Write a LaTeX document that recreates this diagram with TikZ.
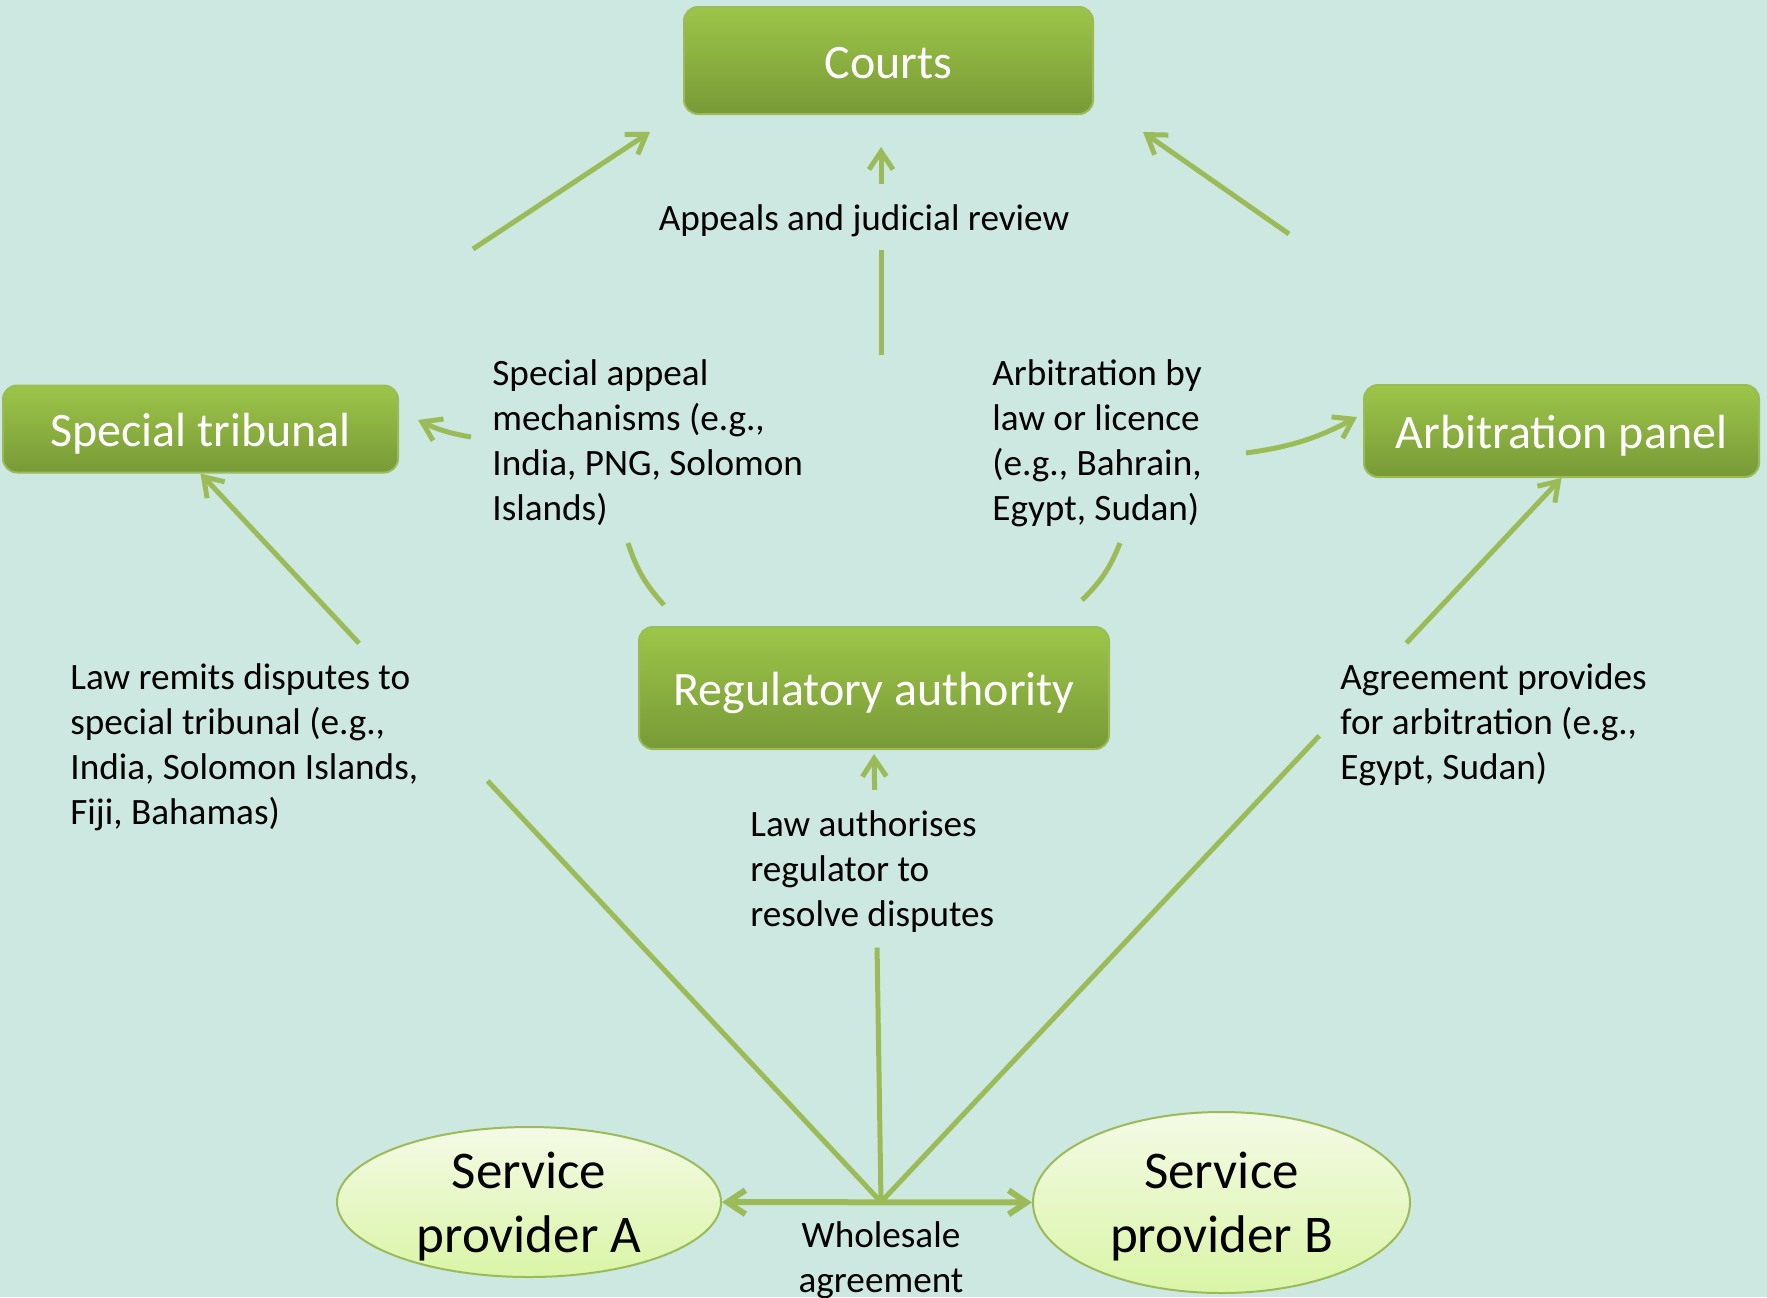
\documentclass[tikz,border=0pt]{standalone}
\usepackage{fontspec}
\setmainfont{Carlito}
\usetikzlibrary{arrows.meta,shapes.geometric}
\definecolor{bgmint}{HTML}{CDE8E0}
\definecolor{linegreen}{HTML}{9BBB59}
\definecolor{boxtop}{HTML}{9DC549}
\definecolor{boxbottom}{HTML}{789A37}
\definecolor{elltop}{HTML}{F4FAE6}
\definecolor{ellbottom}{HTML}{DAF5A6}
\def\notefont{\fontsize{18.6}{22.5}\selectfont}
\def\boxfont{\fontsize{24}{29}\selectfont}
\def\ellfont{\fontsize{26.5}{32}\selectfont}
\tikzset{
  greenbox/.style={draw=linegreen, line width=1pt, rounded corners=7pt, top color=boxtop, bottom color=boxbottom, text=white, font=\boxfont, inner sep=0pt, text height=20pt, text depth=2.4pt},
  provider/.style={ellipse, draw=linegreen, line width=1pt, top color=elltop, bottom color=ellbottom, align=center, font=\ellfont, inner sep=0pt, inner ysep=-5pt, text depth=0pt},
  note/.style={align=left, font=\notefont, inner sep=0pt, anchor=base west},
  link/.style={draw=linegreen, line width=2.5pt},
  arr/.style={link, -{Straight Barb[length=9pt,width=12pt]}},
}

\begin{document}
\begin{tikzpicture}[x=0.5pt,y=-0.5pt]
  \fill[bgmint] (0,0) rectangle (1767,1297);
  \useasboundingbox (0,0) rectangle (1767,1297);

  %the boxes
  \node[greenbox, minimum width=204.5pt, minimum height=53.5pt] (courts) at (888.5,60.5) {Courts};
  \node[greenbox, minimum width=197.5pt, minimum height=43.5pt] (trib) at (200.5,429) {Special tribunal};
  \node[greenbox, minimum width=197.5pt, minimum height=46pt] (arb) at (1561.5,431) {Arbitration panel};
  \node[greenbox, minimum width=235pt, minimum height=61pt] (reg) at (874,688) {Regulatory authority};
  \node[provider, minimum width=192pt, minimum height=75pt] (spa) at (529,1202) {Service\\provider A};
  \node[provider, minimum width=188.5pt, minimum height=90.5pt] (spb) at (1221.5,1202.5) {Service\\provider B};

  %the texts (base is the last line)
  \node[note, anchor=base] (appeals) at (864,230) {Appeals and judicial review};
  \node[note] (sal) at (492,520) {Special appeal\\mechanisms (e.g.,\\India, PNG, Solomon\\Islands)};
  \node[note] (abl) at (992,520) {Arbitration by\\law or licence\\(e.g., Bahrain,\\Egypt, Sudan)};
  \node[note] (lrl) at (70,824) {Law remits disputes to\\special tribunal (e.g.,\\India, Solomon Islands,\\Fiji, Bahamas)};
  \node[note] (agl) at (1340,779) {Agreement provides\\for arbitration (e.g.,\\Egypt, Sudan)};
  \node[note] (lal) at (750,926) {Law authorises\\regulator to\\resolve disputes};
  \node[note, align=center, anchor=base] (wsl) at (881,1292) {Wholesale\\agreement};

  %wholesale agreement and the lines going up from it
  \coordinate (wj) at (881,1202);
  \draw[link, line width=3pt, {Straight Barb[length=9pt,width=12pt]}-{Straight Barb[length=9pt,width=12pt]}] (spa) -- (spb);

  \path (wj) -- (trib.south) coordinate[pos=0.578] (lr1) coordinate[pos=0.767] (lr2);
  \draw[link] (wj) -- (lr1);
  \draw[arr] (lr2) -- (trib.south);

  \path (wj) -- (arb.south) coordinate[pos=0.644] (ag1) coordinate[pos=0.772] (ag2);
  \draw[link] (wj) -- (ag1);
  \draw[arr] (ag2) -- (arb.south);

  \path (wj) -- (reg.south) coordinate[pos=0.563] (la1) coordinate[pos=0.912] (la2);
  \draw[link] (wj) -- (la1);
  \draw[arr, shorten >=2pt] (la2) -- (reg.south);

  %from the regulator to the tribunal and the panel
  \coordinate (sa1) at (628,543);
  \coordinate (sa2) at (471,437);
  \draw[link] ([xshift=13pt,yshift=10.5pt]reg.north west) to[bend left=12] (sa1);
  \draw[arr] (sa2) to[bend left=8] ([xshift=9.5pt,yshift=4.5pt]trib.east);
  \coordinate (ab1) at (1120,543);
  \coordinate (ab2) at (1246,453);
  \draw[link] ([xshift=-14pt,yshift=13pt]reg.north east) to[bend right=12] (ab1);
  \draw[arr] (ab2) to[bend right=10] ([xshift=-3pt,yshift=7pt]arb.west);

  %appeals to the courts
  \coordinate (ap1) at (881,355);
  \coordinate (ap2) at (881,250);
  \coordinate (ap3) at (881,184);
  \draw[link] (ap1) -- (ap2);
  \draw[arr, shorten >=16pt] (ap3) -- (ap3 |- courts.south);
  \coordinate (tc) at (473,249);
  \draw[arr] (tc) -- ([xshift=-16.5pt,yshift=-8.5pt]courts.south west);
  \coordinate (ac) at (1289,234);
  \draw[arr] (ac) -- ([xshift=24.5pt,yshift=-8.5pt]courts.south east);
\end{tikzpicture}
\end{document}
